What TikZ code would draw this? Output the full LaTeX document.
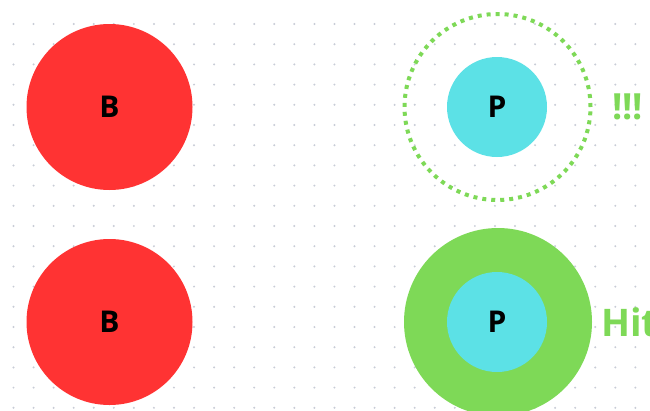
\documentclass[tikz,border=0pt]{standalone}
\usepackage{fontspec}
\setmainfont{Open Sans}
\definecolor{redB}{HTML}{FF3333}
\definecolor{cyanP}{HTML}{5CE1E6}
\definecolor{greenH}{HTML}{7ED957}
\definecolor{gridDot}{HTML}{C8CCD6}
\begin{document}
\begin{tikzpicture}[x=1pt,y=-1pt,
  ball/.style={circle,inner sep=0pt,draw=none,font=\bfseries\fontsize{30}{30}\selectfont,text=black},
  bigB/.style={ball,fill=redB,minimum size=166pt},
  smallP/.style={ball,fill=cyanP,minimum size=100pt},
  ring/.style={circle,inner sep=0pt,draw=greenH,line width=4pt,dash pattern=on 4pt off 5pt,minimum size=186pt},
  hitzone/.style={circle,inner sep=0pt,fill=greenH,minimum size=188pt},
  lbl/.style={anchor=west,inner sep=0pt,text=greenH,font=\bfseries\fontsize{36}{36}\selectfont}]
\useasboundingbox (0,0) rectangle (650,410);
\fill[white] (0,0) rectangle (650,410);
% dot grid
\foreach \i in {0,...,31}{
  \foreach \j in {0,...,19}{
    \fill[gridDot] ({13.5+20.06*\i},{24+20.2*\j}) circle (1.1pt);
  }
}
% top row
\node[bigB] (b1) at (109.5,107) {B};
\node[ring] (r1) at (497.5,107) {};
\node[smallP] (p1) at (497,107) {P};
\node[lbl] (t1) at (612,107) {!!!};
% bottom row
\node[bigB] (b2) at (109.5,322) {B};
\node[hitzone] (h2) at (498,322) {};
\node[smallP] (p2) at (497,322) {P};
\node[lbl,font=\bfseries\fontsize{38}{38}\selectfont] (t2) at (601,322) {Hit};
\end{tikzpicture}
\end{document}
